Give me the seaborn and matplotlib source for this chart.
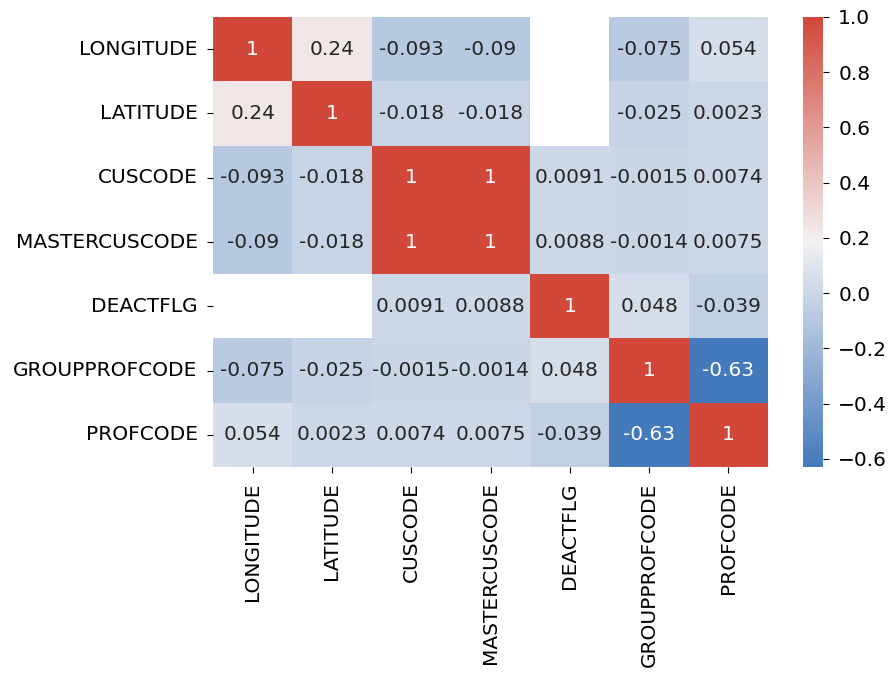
import numpy as np
import pandas as pd
import matplotlib
matplotlib.use("Agg")
import matplotlib.pyplot as plt
import seaborn as sns

columns = ["LONGITUDE", "LATITUDE", "CUSCODE", "MASTERCUSCODE",
           "DEACTFLG", "GROUPPROFCODE", "PROFCODE"]

nan = np.nan
longitude     = [1.0,    0.24,    -0.093,  -0.09,   nan,     -0.075,  0.054]
latitude      = [0.24,   1.0,     -0.018,  -0.018,  nan,     -0.025,  0.0023]
cuscode       = [-0.093, -0.018,  1.0,     1.0,     0.0091,  -0.0015, 0.0074]
mastercuscode = [-0.09,  -0.018,  1.0,     1.0,     0.0088,  -0.0014, 0.0075]
deactflg      = [nan,    nan,     0.0091,  0.0088,  1.0,     0.048,   -0.039]
groupprofcode = [-0.075, -0.025,  -0.0015, -0.0014, 0.048,   1.0,     -0.63]
profcode      = [0.054,  0.0023,  0.0074,  0.0075,  -0.039,  -0.63,   1.0]

corr = pd.DataFrame(
    [longitude, latitude, cuscode, mastercuscode, deactflg, groupprofcode, profcode],
    index=columns, columns=columns,
)

W, H, DPI = 890, 673, 100
fig = plt.figure(figsize=(W / DPI, H / DPI), dpi=DPI)
ax = fig.add_axes([213 / W, 1 - 467 / H, 555 / W, 450 / H])
cax = fig.add_axes([803 / W, 1 - 467 / H, 20 / W, 450 / H])

cmap = sns.diverging_palette(250, 15, s=75, l=50, as_cmap=True)

sns.heatmap(corr, annot=True, cmap=cmap, ax=ax, cbar_ax=cax,
            annot_kws={"fontsize": 14.5})

ax.tick_params(axis="both", labelsize=14.5, length=4.5, pad=6.5)
ax.set_xticklabels(ax.get_xticklabels(), rotation=90)
ax.set_yticklabels(ax.get_yticklabels(), rotation=0)
cax.tick_params(labelsize=14.5, length=4.5, pad=6.5)

fig.savefig("out.png", dpi=DPI)
